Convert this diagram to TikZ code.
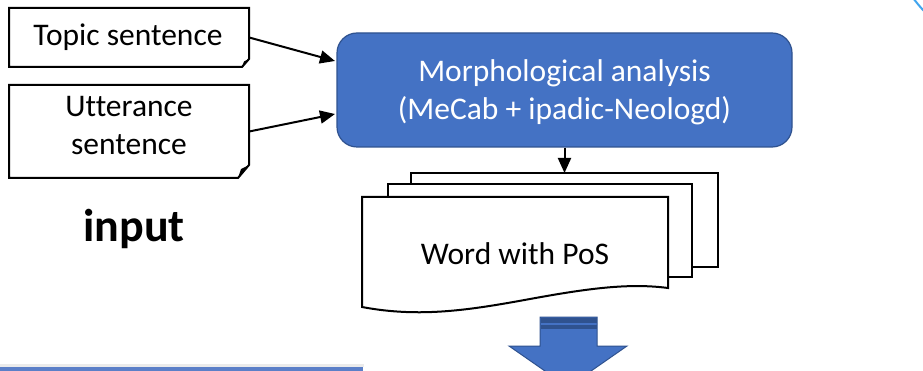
\documentclass[tikz,border=0pt]{standalone}
\usepackage{fontspec}
\setmainfont[Ligatures=CommonOff]{Carlito}
\usetikzlibrary{arrows.meta}
\definecolor{mblue}{HTML}{4472C4}
\definecolor{dblue}{HTML}{2F528F}
\definecolor{lblue}{HTML}{41A5EE}
\definecolor{lineblue}{HTML}{5B7FC8}
\tikzset{
  txt/.style={font=\fontsize{31.5}{38}\selectfont, align=center, inner sep=0pt},
  outl/.style={draw=black, line width=2pt, fill=white, line join=miter},
  conn/.style={draw=black, line width=2pt, -{Triangle[length=15pt,width=13pt]}},
}
\begin{document}
\begin{tikzpicture}[x=1pt,y=-1pt]
\useasboundingbox (0,0) rectangle (923,371);
\clip (0,0) rectangle (923,371);
\fill[white] (0,0) rectangle (923,371);

% note boxes
\node[txt, minimum width=240pt, minimum height=59pt] (topic) at (129,37.5) {};
\draw[outl] (9,8) -- (249,8) -- (249,59) -- (242,67) -- (9,67) -- cycle;
\fill[black] (242,67) -- (244,61.5) -- (249,59) -- cycle;
\node[txt] (topictext) at (128,37) {Topic sentence};

\node[txt, minimum width=240pt, minimum height=93pt] (utt) at (129,131.5) {};
\draw[outl] (9,85) -- (249,85) -- (249,165) -- (238,178) -- (9,178) -- cycle;
\fill[black] (238,178) -- (241,169) -- (249,165) -- cycle;
\node[txt] (utttext) at (129,126) {Utterance\\sentence};

\node[font=\fontsize{46}{50}\selectfont\bfseries, inner sep=0pt] (inp) at (134,229) {input};

% morphological analysis
\node[draw=dblue, line width=1.2pt, fill=mblue, rounded corners=20pt, minimum width=455pt, minimum height=114pt] (morph) at (564.5,90) {};
\node[txt, text=white] (morphtext) at (564.5,92) {Morphological analysis\\(MeCab + ipadic-Neologd)};

\coordinate (m1) at (335,61);
\coordinate (m2) at (335,114);
\draw[conn] (topic.east) -- (m1);
\draw[conn] (utt.east) -- (m2);

% document stack
\draw[outl] (411,173) rectangle (718,267);
\coordinate (backtop) at (564.5,173);
\draw[outl] (388,184) rectangle (692,277);
\draw[outl] (362,197) -- (668,197) -- (668,288)
  .. controls (630,283) and (590,288) .. (530,299)
  .. controls (470,310) and (420,318) .. (362,307) -- cycle;
\node[txt] (word) at (515,254) {Word with PoS};

\draw[conn] (morph.south) -- (backtop);

% block arrow
\draw[fill=mblue, draw=dblue, line width=1pt] (540,317) -- (597,317) -- (597,346) -- (627,346) -- (568,387) -- (509,346) -- (540,346) -- cycle;
\fill[dblue] (540.5,317.5) rectangle (596.5,323);
\fill[dblue] (540.5,324.5) rectangle (596.5,329);

% bottom-left bar
\fill[black!8] (0,364) rectangle (364,367);
\fill[lineblue] (0,367) rectangle (363,371);

% top-right arc
\draw[lblue, line width=2pt] (913,-2) .. controls (917,3) and (920,7) .. (924,11);
\end{tikzpicture}
\end{document}
